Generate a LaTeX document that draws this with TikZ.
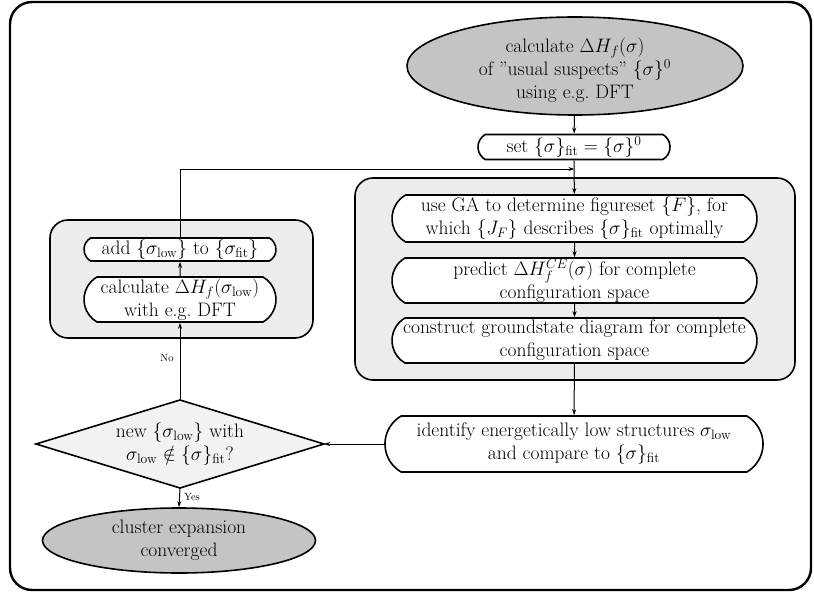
\documentclass[tikz,border=0pt]{standalone}
\usepackage{fix-cm}
\usetikzlibrary{shapes.misc,shapes.geometric,arrows.meta}
\definecolor{darkfill}{gray}{0.77}
\definecolor{grpfill}{gray}{0.925}
\definecolor{dfill}{gray}{0.95}
\tikzset{
  base/.style={font=\fontsize{19.5}{23}\selectfont, align=center, inner sep=0pt},
  proc/.style={base, draw, line width=1.6pt, fill=white, rounded rectangle, rounded rectangle arc length=120},
  grp/.style={draw, line width=1.6pt, fill=grpfill, rounded corners=18pt, inner sep=0pt},
  term/.style={base, draw, line width=1.6pt, fill=darkfill, ellipse},
  decshape/.style={draw, line width=1.6pt, fill=dfill, line join=miter},
  arr/.style={line width=1pt, -{Stealth[length=6pt,width=4pt]}},
  lbl/.style={font=\fontsize{10.5}{12}\selectfont, inner sep=1pt}
}
\begin{document}
\begin{tikzpicture}[x=1pt,y=-1pt]
\useasboundingbox (0,0) rectangle (814,594);
\node[draw, line width=2.4pt, rounded corners=22pt, minimum width=801pt, minimum height=588pt, inner sep=0pt] (frame) at (410.5,296) {};
% groups
\node[grp, minimum width=440pt, minimum height=202pt] (rgrp) at (575,279) {};
\node[grp, minimum width=263pt, minimum height=118pt] (lgrp) at (181.5,279) {};
% nodes
\node[term, minimum width=336pt, minimum height=98pt] (start) at (575,66) {};
\node[base] (starttext) at (575,70)
  {calculate $\Delta H_f(\sigma)$\\ of ''usual suspects'' $\{\sigma\}^0$\\ using e.g.\ DFT};
\node[proc, minimum width=192pt, minimum height=25pt] (set) at (574,147)
  {set $\{\sigma\}_{\mathrm{fit}}=\{\sigma\}^0$};
\node[proc, minimum width=365pt, minimum height=47pt] (b1) at (574.5,218.5)
  {use GA to determine figureset $\{F\}$, for\\ which $\{J_F\}$ describes $\{\sigma\}_{\mathrm{fit}}$ optimally};
\node[proc, minimum width=365pt, minimum height=45pt] (b2) at (574.5,280.5)
  {predict $\Delta H_f^{CE}(\sigma)$ for complete\\ configuration space};
\node[proc, minimum width=365pt, minimum height=45pt] (b3) at (574.5,340.5)
  {construct groundstate diagram for complete\\ configuration space};
\node[proc, minimum width=378pt, minimum height=56pt] (ident) at (574,444)
  {identify energetically low structures $\sigma_{\mathrm{low}}$\\ and compare to $\{\sigma\}_{\mathrm{fit}}$};
% decision diamond
\coordinate (dleft) at (36,444);
\coordinate (dtop) at (180,400);
\coordinate (dright) at (324,444);
\coordinate (dbot) at (180,488);
\draw[decshape] (dleft) -- (dtop) -- (dright) -- (dbot) -- cycle;
\node[base] (dec) at (180,444)
  {new $\{\sigma_{\mathrm{low}}\}$ with\\ $\sigma_{\mathrm{low}}\notin\{\sigma\}_{\mathrm{fit}}$?};
\node[term, minimum width=273pt, minimum height=65pt] (end) at (179,540.5)
  {cluster expansion\\ converged};
\node[proc, minimum width=192pt, minimum height=45pt] (calc) at (180,299.5)
  {calculate $\Delta H_f(\sigma_{\mathrm{low}})$\\ with e.g.\ DFT};
\node[proc, minimum width=192pt, minimum height=23pt] (add) at (180,249.5)
  {add $\{\sigma_{\mathrm{low}}\}$ to $\{\sigma_{\mathrm{fit}}\}$};
\coordinate (j) at (574.4,169);
% connectors
\draw[arr] (start) -- (set);
\draw[arr] (set) -- (b1);
\draw[arr] (b1) -- (b2);
\draw[arr] (b2) -- (b3);
\draw[arr] (b3) -- (ident);
\draw[arr] (ident) -- (dright);
\draw[arr] (dtop) -- node[lbl, left=5pt, pos=0.55] (no) {No} (calc.south);
\draw[arr] (calc) -- (add);
\draw[arr] (add.north) |- (j);
\draw[arr] (dbot) -- node[lbl, right=3pt, pos=0.45] (yes) {Yes} (end.north);
\end{tikzpicture}
\end{document}
